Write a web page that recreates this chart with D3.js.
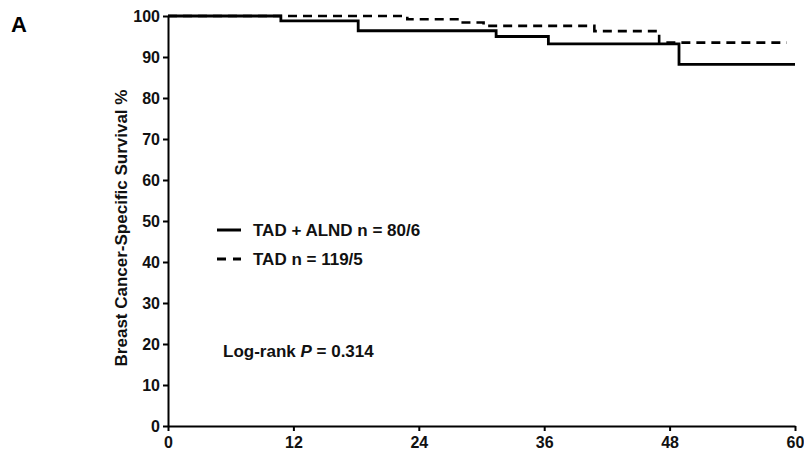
<!DOCTYPE html>
<html>
<head>
<meta charset="utf-8">
<script src="https://cdn.jsdelivr.net/npm/d3@7"></script>
<style>
  body { margin: 0; background: #fff; }
  svg { display: block; font-family: "Liberation Sans", Arial, sans-serif; }
</style>
</head>
<body>
<svg id="chart" width="804" height="455"></svg>
<script>
// Data (months, survival %)
const xTicks = [0, 12, 24, 36, 48, 60];
const yTicks = [0, 10, 20, 30, 40, 50, 60, 70, 80, 90, 100];

const alndTimes    = [0, 10.8, 18.2, 31.4, 36.4, 48.9, 60];
const alndSurvival = [100, 98.8, 96.4, 95.0, 93.2, 88.2, 88.2];

const tadTimes    = [0, 22.9, 28.0, 30.2, 40.8, 47.0, 59.2];
const tadSurvival = [100, 99.2, 98.4, 97.6, 96.3, 93.5, 93.5];

const legendLabels = ["TAD + ALND n = 80/6", "TAD n = 119/5"];

const svg = d3.select("#chart");
const margin = { left: 168, right: 9, top: 16, bottom: 29 };
const W = 804, H = 455;

const x = d3.scaleLinear().domain([0, 60]).range([margin.left, W - margin.right]);
const y = d3.scaleLinear().domain([0, 100]).range([H - margin.bottom, margin.top]);

// axes
const xAxis = svg.append("g")
  .attr("transform", `translate(0,${y(0)})`)
  .call(d3.axisBottom(x).tickValues(xTicks).tickSize(5).tickPadding(6).tickSizeOuter(0));
const yAxis = svg.append("g")
  .attr("transform", `translate(${x(0)},0)`)
  .call(d3.axisLeft(y).tickValues(yTicks).tickSize(5).tickPadding(3).tickSizeOuter(0));

[xAxis, yAxis].forEach(a => {
  a.select(".domain").attr("stroke", "#000").attr("stroke-width", 2);
  a.selectAll(".tick line").attr("stroke", "#000").attr("stroke-width", 2);
  a.selectAll(".tick text")
    .attr("fill", "#111")
    .style("font-size", "16px")
    .style("font-weight", "bold")
    .style("font-family", '"Liberation Sans", Arial, sans-serif');
});
yAxis.selectAll(".tick text").attr("dy", "0.35em");

// y axis title
svg.append("text")
  .attr("transform", `translate(127,${(y(0) + y(100)) / 2 + 7}) rotate(-90)`)
  .attr("text-anchor", "middle")
  .style("font-size", "17px")
  .style("font-weight", "bold")
  .attr("fill", "#111")
  .text("Breast Cancer-Specific Survival %");

// Panel label
svg.append("text")
  .attr("x", 11).attr("y", 32)
  .style("font-size", "22px")
  .style("font-weight", "bold")
  .attr("fill", "#000")
  .text("A");

// survival curves
const stepLine = d3.line()
  .x(d => x(d[0]))
  .y(d => y(d[1]))
  .curve(d3.curveStepAfter);

const aln = alndTimes.map((t, i) => [t, alndSurvival[i]]);
const tad = tadTimes.map((t, i) => [t, tadSurvival[i]]);

svg.append("path")
  .datum(tad)
  .attr("d", stepLine)
  .attr("fill", "none")
  .attr("stroke", "#000")
  .attr("stroke-width", 2.6)
  .attr("stroke-dasharray", "9,6");

svg.append("path")
  .datum(aln)
  .attr("d", stepLine)
  .attr("fill", "none")
  .attr("stroke", "#000")
  .attr("stroke-width", 2.8);

// legend
const lg = svg.append("g");
lg.append("line").attr("x1", 217).attr("x2", 241).attr("y1", 230).attr("y2", 230)
  .attr("stroke", "#000").attr("stroke-width", 3);
lg.append("line").attr("x1", 217).attr("x2", 241).attr("y1", 259).attr("y2", 259)
  .attr("stroke", "#000").attr("stroke-width", 3).attr("stroke-dasharray", "9,7");
lg.selectAll("text.leg").data(legendLabels).enter().append("text")
  .attr("class", "leg")
  .attr("x", 253)
  .attr("y", (d, i) => 236 + i * 29)
  .style("font-size", "17px")
  .style("font-weight", "bold")
  .attr("fill", "#111")
  .text(d => d);

// log-rank
const lr = svg.append("text")
  .attr("x", 223).attr("y", 357)
  .style("font-size", "17px")
  .style("font-weight", "bold")
  .attr("fill", "#111");
lr.append("tspan").text("Log-rank ");
lr.append("tspan").style("font-style", "italic").text("P");
lr.append("tspan").text(" = 0.314");
</script>
</body>
</html>
